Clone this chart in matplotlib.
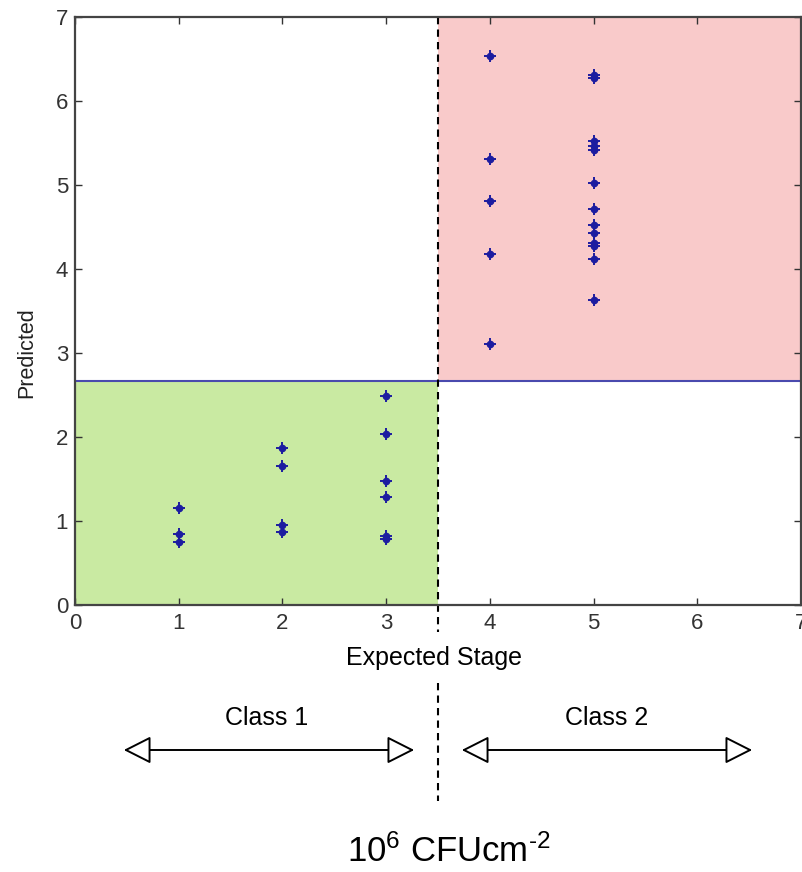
import matplotlib
matplotlib.use('Agg')
import matplotlib.pyplot as plt
from matplotlib.patches import FancyArrowPatch

# ---------------- data ----------------
class1_x = [1, 1, 1, 2, 2, 2, 2, 3, 3, 3, 3, 3, 3]
class1_y = [1.15, 0.84, 0.75, 1.865, 1.655, 0.955, 0.865, 2.49, 2.04, 1.48, 1.29, 0.82, 0.78]
class2_x = [4, 4, 4, 4, 4, 5, 5, 5, 5, 5, 5, 5, 5, 5, 5, 5, 5, 5]
class2_y = [6.54, 5.31, 4.81, 4.18, 3.11,
            6.31, 6.27, 5.52, 5.47, 5.42, 5.02, 4.72, 4.52, 4.43, 4.31, 4.27, 4.12, 3.63]
boundary_x = 3.5
threshold_y = 2.67
x_ticks = [0, 1, 2, 3, 4, 5, 6, 7]
y_ticks = [0, 1, 2, 3, 4, 5, 6, 7]
class_labels = ['Class 1', 'Class 2']

plt.rcParams['font.family'] = ['Liberation Sans', 'DejaVu Sans']
plt.rcParams['mathtext.fontset'] = 'custom'
plt.rcParams['mathtext.rm'] = 'Liberation Sans'
plt.rcParams['mathtext.it'] = 'Liberation Sans:italic'
plt.rcParams['hatch.linewidth'] = 0.5

W, H = 803, 872
fig = plt.figure(figsize=(W / 100, H / 100), dpi=100)
fig.patch.set_facecolor('white')

def fx(px):
    return px / W

def fy(py):
    return 1 - py / H

ax = fig.add_axes([fx(75), fy(605), (801 - 75) / W, (605 - 17) / H])
ax.set_xlim(0, 7)
ax.set_ylim(0, 7)

# shaded class regions
ax.fill_between([0, boundary_x], 0, threshold_y, facecolor='#e4f6d0',
                edgecolor='#c9eaa2', hatch='+' * 16, linewidth=0, zorder=1)
ax.fill_between([boundary_x, 7], threshold_y, 7, facecolor='#fde4e4',
                edgecolor='#f9caca', hatch='+' * 16, linewidth=0, zorder=1)

# threshold line
ax.axhline(threshold_y, color='#4a4aae', lw=1.5, zorder=3)

# points
for xs, ys in [(class1_x, class1_y), (class2_x, class2_y)]:
    ax.plot(xs, ys, 'o', ms=4.5, color='#1c1ca0', zorder=5)
    ax.plot(xs, ys, '+', ms=8, mew=1.4, color='#1c1ca0', zorder=5)

# dashed divider (inside and extending below the axes)
dash = (0, (3.5, 2.5))
ax.plot([boundary_x, boundary_x], [7, (605 - 632) / 84.0], ls=dash, lw=1.5,
        color='black', clip_on=False, zorder=6)
ax.plot([boundary_x, boundary_x], [(605 - 683) / 84.0, (605 - 801) / 84.0], ls=dash,
        lw=1.5, color='black', clip_on=False, zorder=6)

# ticks and spines
ax.set_xticks(x_ticks)
ax.set_yticks(y_ticks)
ax.tick_params(direction='in', length=5, width=1, color='#333333',
               top=True, right=True, labelsize=16, labelcolor='#333333')
ax.tick_params(axis='x', pad=6)
ax.tick_params(axis='y', pad=5)
for s in ax.spines.values():
    s.set_linewidth(1.6)
    s.set_color('#444444')
    s.set_zorder(7)

# labels
fig.text(fx(27), fy(353), 'Predicted', rotation=90, ha='center', va='center',
         fontsize=15.5, color='#222222')
fig.text(fx(434), fy(658), 'Expected Stage', ha='center', va='center',
         fontsize=18, color='black')

fig.text(fx(267), fy(718), class_labels[0], ha='center', va='center', fontsize=18)
fig.text(fx(607), fy(718), class_labels[1], ha='center', va='center', fontsize=18)

for x0, x1 in [(121, 417), (459, 755)]:
    arr = FancyArrowPatch((fx(x0), fy(750)), (fx(x1), fy(750)),
                          transform=fig.transFigure,
                          arrowstyle='<|-|>,head_length=17,head_width=8.6',
                          mutation_scale=1, fc='white', ec='black', lw=1.4)
    fig.add_artist(arr)

fig.text(fx(347), fy(852), r'10$^{\mathrm{6}}$ CFUcm$^{\text{-2}}$', ha='left',
         va='center', fontsize=25)

fig.savefig('out.png', dpi=100)
